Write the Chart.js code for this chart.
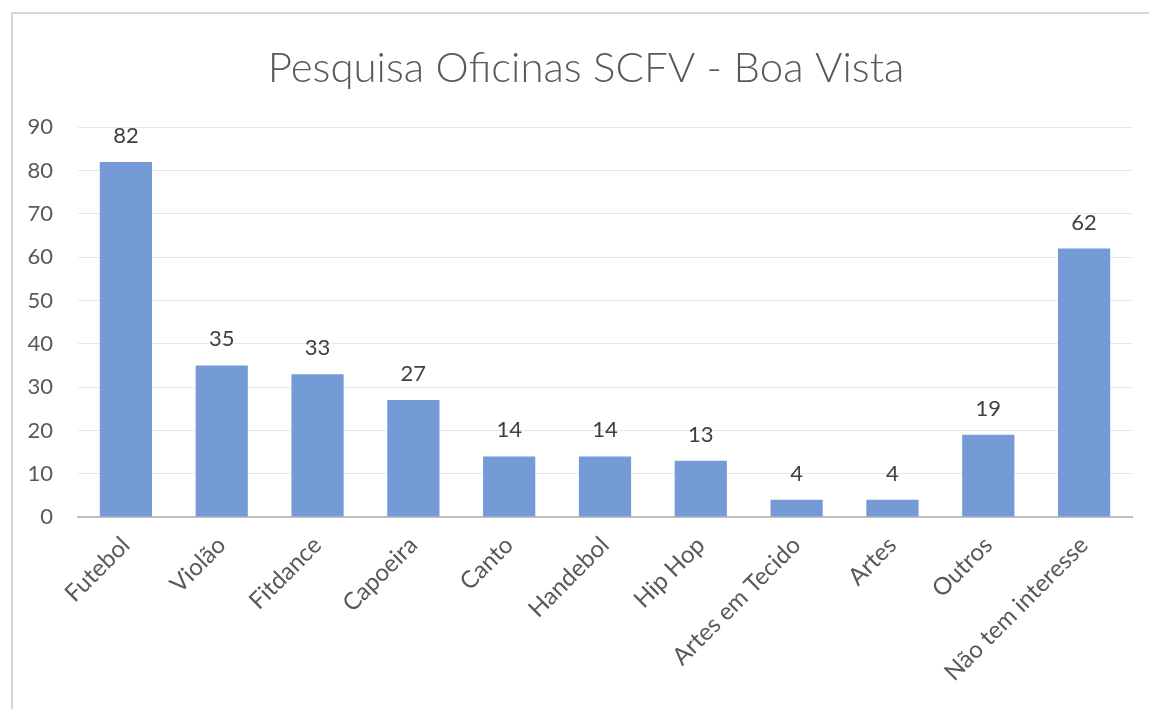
<!DOCTYPE html>
<html>
<head>
<meta charset="utf-8">
<script src="https://cdn.jsdelivr.net/npm/chart.js@4"></script>
<style>
  html, body { margin: 0; padding: 0; background: #fff; overflow: hidden; }
  #wrap { position: relative; width: 1149px; height: 709px; }
  #frame { position: absolute; left: 11px; top: 12px; width: 1160px; height: 720px;
           border-left: 2px solid #d6d6d6; border-top: 2px solid #d6d6d6; }
  canvas { position: absolute; left: 0; top: 0; }
</style>
</head>
<body>
<div id="wrap">
  <div id="frame"></div>
  <canvas id="voteChart" width="1149" height="709"></canvas>
</div>
<script>
// Chart data
const categories = ['Futebol', 'Violão', 'Fitdance', 'Capoeira', 'Canto', 'Handebol',
    'Hip Hop', 'Artes em Tecido', 'Artes', 'Outros', 'Não tem interesse'];
const votes = [82, 35, 33, 27, 14, 14, 13, 4, 4, 19, 62];
const yTicks = [0, 10, 20, 30, 40, 50, 60, 70, 80, 90];

const fontFamily = "Lato, 'Open Sans', sans-serif";

// draws the value above each bar
const valueLabels = {
    id: 'valueLabels',
    afterDatasetsDraw(chart) {
        const ctx = chart.ctx;
        const meta = chart.getDatasetMeta(0);
        ctx.save();
        ctx.font = '22px ' + fontFamily;
        ctx.fillStyle = '#404040';
        ctx.textAlign = 'center';
        ctx.textBaseline = 'alphabetic';
        meta.data.forEach((bar, i) => {
            ctx.fillText(votes[i], bar.x, bar.y - 19);
        });
        ctx.restore();
    }
};

const ctx = document.getElementById('voteChart').getContext('2d');
new Chart(ctx, {
    type: 'bar',
    data: {
        labels: categories,
        datasets: [{
            data: votes,
            backgroundColor: '#759bd6',
            barPercentage: 0.545,
            categoryPercentage: 1
        }]
    },
    options: {
        responsive: false,
        animation: false,
        // negative right padding moves the centred title right (the frame runs off the picture);
        // an empty right axis keeps the plot inside the canvas
        layout: { padding: { top: 43, right: -23, left: 0, bottom: 0 } },
        plugins: {
            legend: { display: false },
            tooltip: { enabled: false },
            title: {
                display: true,
                text: 'Pesquisa Oficinas SCFV - Boa Vista',
                color: '#595959',
                font: { family: fontFamily, size: 42, weight: '300' },
                padding: { top: 0, bottom: 34 }
            }
        },
        scales: {
            x: {
                grid: { display: false },
                border: { display: true, color: '#bfbfbf', width: 2 },
                ticks: {
                    color: '#595959',
                    font: { family: fontFamily, size: 24 },
                    minRotation: 45,
                    maxRotation: 45,
                    padding: 6
                },
                afterFit(scale) { scale.height = 192; }
            },
            y: {
                min: 0,
                max: 90,
                afterBuildTicks(scale) { scale.ticks = yTicks.map(v => ({ value: v })); },
                grid: { color: '#e8e8e8', lineWidth: 1, drawTicks: false },
                border: { display: false },
                ticks: {
                    color: '#595959',
                    font: { family: fontFamily, size: 22 },
                    padding: 25
                },
                afterFit(scale) { scale.width = 78; }
            },
            spacer: {
                type: 'linear',
                position: 'right',
                min: 0,
                max: 90,
                grid: { display: false },
                border: { display: false },
                ticks: { display: false },
                afterFit(scale) { scale.width = 40; }
            }
        }
    },
    plugins: [valueLabels]
});
</script>
</body>
</html>
